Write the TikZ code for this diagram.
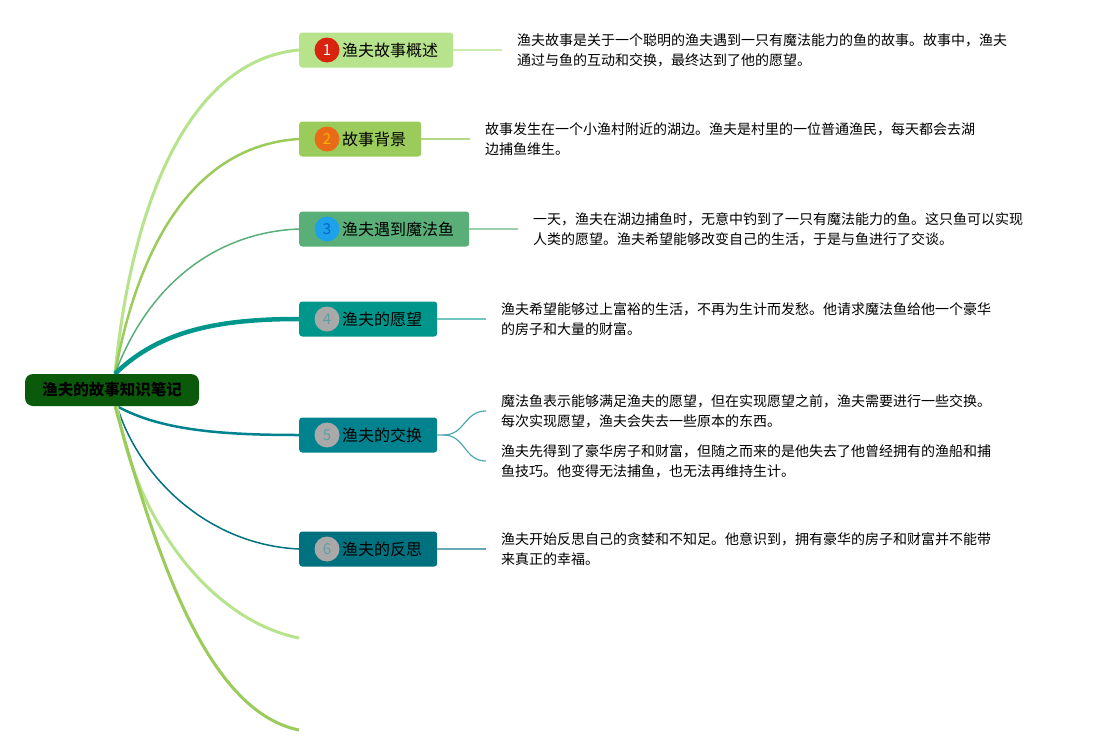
\documentclass[tikz,border=0pt]{standalone}
\usepackage{fontspec}
\setmainfont{Noto Sans CJK SC}
\usetikzlibrary{backgrounds}
\definecolor{rootgreen}{HTML}{0B5A0B}
\definecolor{topicone}{HTML}{B6E38B}
\definecolor{topictwo}{HTML}{9BCB5A}
\definecolor{topicthree}{HTML}{5AAF78}
\definecolor{topicfour}{HTML}{00968C}
\definecolor{topicfive}{HTML}{00838F}
\definecolor{topicsix}{HTML}{00717F}
\definecolor{dotred}{HTML}{D8230F}
\definecolor{dotorange}{HTML}{E86B17}
\definecolor{dotblue}{HTML}{1DA1E8}
\definecolor{dotgray}{HTML}{A9A9A9}
\definecolor{dotnum}{HTML}{5F9EA6}
\begin{document}
\begin{tikzpicture}[x=1pt,y=-1pt,
  topic/.style={rectangle,rounded corners=3pt,inner xsep=0pt,inner ysep=0pt,
    minimum height=35pt,anchor=west,font=\fontsize{16}{16}\selectfont},
  numdot/.style={circle,inner sep=0pt,minimum size=25pt,font=\fontsize{15}{15}\selectfont},
  note/.style={anchor=west,align=left,inner xsep=15pt,inner ysep=0pt,
    font=\fontsize{14}{20}\selectfont},
  twig/.style={line width=1.5pt}]
\useasboundingbox (0,0) rectangle (1093,755);
%--- root ---
\node[fill=rootgreen,rounded corners=8pt,minimum width=174pt,minimum height=32pt,
  inner sep=0pt,font=\fontsize{15.5}{15.5}\selectfont\bfseries] (root) at (112,390) {渔夫的故事知识笔记};
%--- topics ---
\node[topic,fill=topicone] (t1) at (299,50) {\hspace*{43pt}渔夫故事概述\hspace*{15pt}};
\node[topic,fill=topictwo] (t2) at (299,139) {\hspace*{43pt}故事背景\hspace*{15pt}};
\node[topic,fill=topicthree] (t3) at (299,229) {\hspace*{43pt}渔夫遇到魔法鱼\hspace*{15pt}};
\node[topic,fill=topicfour] (t4) at (299,319) {\hspace*{43pt}渔夫的愿望\hspace*{15pt}};
\node[topic,fill=topicfive] (t5) at (299,435) {\hspace*{43pt}渔夫的交换\hspace*{15pt}};
\node[topic,fill=topicsix] (t6) at (299,549) {\hspace*{43pt}渔夫的反思\hspace*{15pt}};
% number dots
\node[numdot,fill=dotred,text=white] (n1) at ([xshift=28pt]t1.west) {1};
\node[numdot,fill=dotorange,text=orange!60!yellow] (n2) at ([xshift=28pt]t2.west) {2};
\node[numdot,fill=dotblue,text=blue!50!cyan!80!black] (n3) at ([xshift=28pt]t3.west) {3};
\node[numdot,fill=dotgray,text=dotnum] (n4) at ([xshift=28pt]t4.west) {4};
\node[numdot,fill=dotgray,text=dotnum] (n5) at ([xshift=28pt]t5.west) {5};
\node[numdot,fill=dotgray,text=dotnum] (n6) at ([xshift=28pt]t6.west) {6};
%--- notes ---
\node[note] (d1) at (502,50) {渔夫故事是关于一个聪明的渔夫遇到一只有魔法能力的鱼的故事。故事中，渔夫\\通过与鱼的互动和交换，最终达到了他的愿望。};
\node[note] (d2) at (470,139) {故事发生在一个小渔村附近的湖边。渔夫是村里的一位普通渔民，每天都会去湖\\边捕鱼维生。};
\node[note] (d3) at (518,229) {一天，渔夫在湖边捕鱼时，无意中钓到了一只有魔法能力的鱼。这只鱼可以实现\\人类的愿望。渔夫希望能够改变自己的生活，于是与鱼进行了交谈。};
\node[note] (d4) at (486,319) {渔夫希望能够过上富裕的生活，不再为生计而发愁。他请求魔法鱼给他一个豪华\\的房子和大量的财富。};
\node[note] (d5a) at (486,411) {魔法鱼表示能够满足渔夫的愿望，但在实现愿望之前，渔夫需要进行一些交换。\\每次实现愿望，渔夫会失去一些原本的东西。};
\node[note] (d5b) at (486,461) {渔夫先得到了豪华房子和财富，但随之而来的是他失去了他曾经拥有的渔船和捕\\鱼技巧。他变得无法捕鱼，也无法再维持生计。};
\node[note] (d6) at (486,549) {渔夫开始反思自己的贪婪和不知足。他意识到，拥有豪华的房子和财富并不能带\\来真正的幸福。};
% topic -> note
\draw[twig,topicone!70!white] (t1.east) -- (d1.west);
\draw[twig,topictwo!75!white] (t2.east) -- (d2.west);
\draw[twig,topicthree!60!white] (t3.east) -- (d3.west);
\draw[twig,topicfour!55!white] (t4.east) -- (d4.west);
\coordinate (f5) at ([xshift=6pt]t5.east);
\draw[line width=1.2pt,topicfive!70!white] (t5.east) -- (f5) .. controls +(22,0) and +(-22,0) .. (d5a.west);
\draw[line width=1.2pt,topicfive!70!white] (f5) .. controls +(22,0) and +(-22,0) .. (d5b.west);
\draw[twig,topicsix!60!white] (t6.east) -- (d6.west);
%--- branches from root ---
\coordinate (e1) at (299,638);
\coordinate (e2) at (299,730);
\begin{scope}[on background layer]
\draw[line width=3pt,topicone] ([xshift=3pt]root.north) .. controls (132,200) and (190,60) .. (t1.west);
\draw[line width=2.5pt,topictwo] ([xshift=3pt]root.north) .. controls (140,235) and (200,145) .. (t2.west);
\draw[line width=1.5pt,topicthree] ([xshift=3pt]root.north) .. controls (150,280) and (220,232) .. (t3.west);
\draw[line width=4.5pt,topicfour] ([xshift=3pt]root.north) .. controls (160,330) and (220,319) .. (t4.west);
\draw[line width=2.5pt,topicfive] ([xshift=5pt]root.south) .. controls (160,430) and (220,435) .. (t5.west);
\draw[line width=1.5pt,topicsix] ([xshift=5pt]root.south) .. controls (140,480) and (210,545) .. (t6.west);
\draw[line width=3pt,topicone] ([xshift=5pt]root.south) .. controls (135,520) and (210,620) .. (e1);
\draw[line width=3pt,topictwo] ([xshift=3pt]root.south) .. controls (150,530) and (200,710) .. (e2);
\end{scope}
\end{tikzpicture}
\end{document}
